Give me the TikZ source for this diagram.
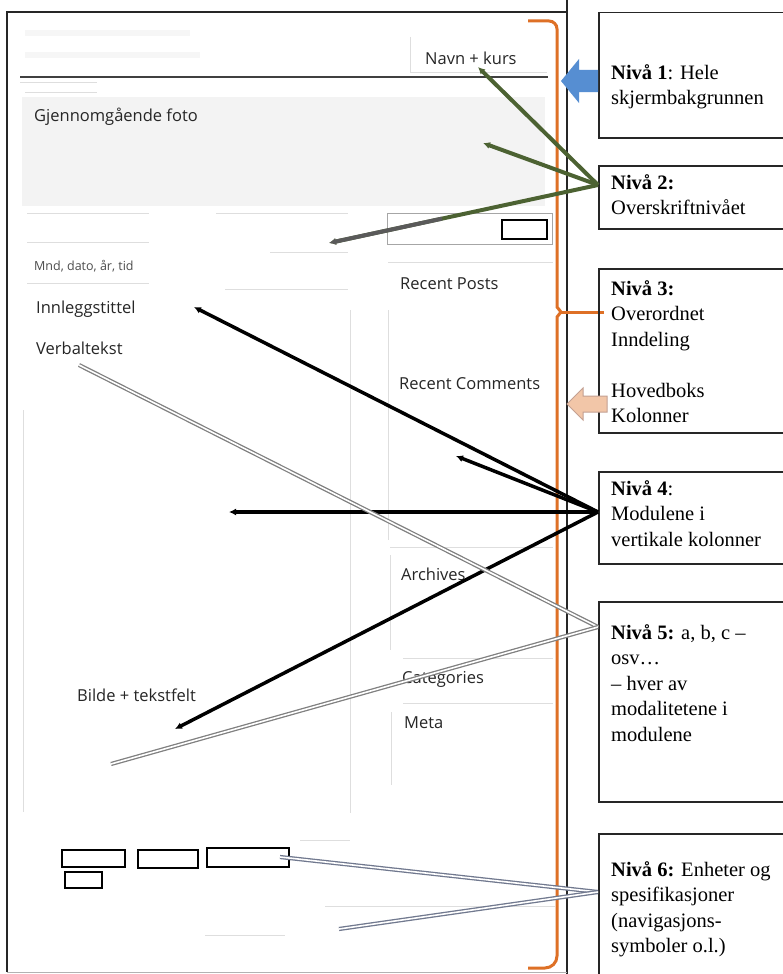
\documentclass[tikz,border=0pt]{standalone}
\usepackage{fontspec}
\setmainfont{Liberation Serif}
\newfontfamily\uifont{Open Sans}
\usetikzlibrary{arrows.meta,calc}

\definecolor{bracketorange}{RGB}{222,112,38}
\definecolor{levelblue}{RGB}{86,142,210}
\definecolor{peachfill}{RGB}{242,198,168}
\definecolor{peachedge}{RGB}{196,160,146}
\definecolor{olivelink}{RGB}{76,98,50}
\definecolor{greylink}{RGB}{90,90,90}
\definecolor{guide}{RGB}{222,222,222}
\definecolor{photo}{RGB}{243,243,243}
\definecolor{modalink}{RGB}{128,128,128}
\definecolor{unitlink}{RGB}{112,120,142}

\begin{document}
\begin{tikzpicture}[x=1pt,y=-1pt,
  frameline/.style={line width=1.3pt, black!85},
  guideline/.style={line width=0.9pt, guide},
  uitext/.style={anchor=base west, inner sep=0pt, font=\uifont\fontsize{16.5}{20}\selectfont, text=black!85},
  smalltext/.style={anchor=base west, inner sep=0pt, font=\uifont\fontsize{12.5}{15}\selectfont, text=black!70},
  navbox/.style={draw=black, line width=1.2pt},
  lvlbox/.style={draw=black!85, line width=1.5pt, anchor=north west, minimum width=200pt, inner sep=0pt},
  lvltext/.style={anchor=north west, inner sep=0pt, align=left, font=\fontsize{20.5}{25.5}\selectfont},
  bracket/.style={draw=bracketorange, line width=3pt},
  headlink/.style={line width=4pt, olivelink, -{Latex[length=7pt,width=7pt]}},
  modlink/.style={line width=3.5pt, black, -{Latex[length=7pt,width=7pt]}},
  partlink/.style={draw=modalink, double=white, double distance=1.6pt, line width=1.3pt},
  unitlinkstyle/.style={draw=unitlink, double=white, double distance=1.6pt, line width=1.3pt}]

\useasboundingbox (0,0) rectangle (782,974);
\fill[white] (0,0) rectangle (782,974);

% ---- faint layout guides of the page mock-up ----
\fill[photo] (22,97) rectangle (545,206);
\fill[gray!7] (25,30) rectangle (190,36);
\fill[gray!7] (25,52) rectangle (200,58);
\draw[guideline] (410,37) -- (410,72) -- (547,72);
\draw[guideline] (20,82) -- (97,82);
\draw[guideline] (25,92) -- (97,92);
\draw[guideline] (27,213) -- (149,213);
\draw[guideline] (216,213) -- (348,213);
\draw[guideline] (27,242) -- (149,242);
\draw[guideline] (270,252) -- (348,252);
\draw[guideline] (27,283) -- (149,283);
\draw[guideline] (225,289) -- (348,289);
\draw[guideline] (388,262) -- (553,262);
\draw[guideline] (350,310) -- (350,813);
\draw[guideline] (388,310) -- (388,540);
\draw[guideline] (23,410) -- (23,812);
\draw[guideline] (390,547) -- (553,547);
\draw[guideline] (390,555) -- (390,650);
\draw[guideline] (403,658) -- (553,658);
\draw[guideline] (403,703) -- (553,703);
\draw[guideline] (391,712) -- (391,785);
\draw[guideline] (300,840) -- (350,840);
\draw[guideline] (325,906) -- (555,906);
\draw[guideline] (205,935) -- (285,935);

% ---- page frame and header rule ----
\draw[frameline] (567,0) -- (567,974);
\draw[frameline] (567,12) -- (7,12) -- (7,972);
\draw[line width=1pt, gray!60] (7,972) -- (567,972);
\draw[line width=1.6pt, black!75] (20,77) -- (548,77);

% ---- search field ----
\draw[line width=1pt, gray!70] (387,213) rectangle (552,244);
\draw[navbox] (502,220) rectangle (547,239);

% ---- mock-up labels ----
\node[uitext] (navn) at (425,64) {Navn + kurs};
\node[uitext] (foto) at (34,121) {Gjennomgående foto};
\node[smalltext] (dato) at (34,270) {Mnd, dato, år, tid};
\node[uitext] (tittel) at (36,313) {Innleggstittel};
\node[uitext] (verbal) at (36,354) {Verbaltekst};
\node[uitext] (posts) at (400,289) {Recent Posts};
\node[uitext] (comments) at (399,389) {Recent Comments};
\node[uitext] (archives) at (401,580) {Archives};
\node[uitext] (categories) at (402,683) {Categories};
\node[uitext] (meta) at (404,728) {Meta};
\node[uitext] (bilde) at (77,701) {Bilde + tekstfelt};

% ---- navigation buttons ----
\draw[navbox] (62,850) rectangle (125,867);
\draw[navbox] (138,850) rectangle (198,868);
\draw[navbox] (207,848) rectangle (289,867);
\draw[navbox] (65,872) rectangle (102,888);

% ---- orange bracket spanning the main box ----
\draw[bracket] [rounded corners=8pt] (528,21) -- (557,21) -- (557,300)
  [sharp corners] -- (557,307) -- (561,312) -- (557,317) -- (557,330)
  [rounded corners=12pt] -- (557,968) -- (528,968);
\draw[bracket] (561,312) -- (604,312);

% ---- level boxes ----
\node[lvlbox, minimum height=125pt] (box1) at (598,12) {};
\node[lvlbox, minimum height=63pt] (box2) at (598,165) {};
\node[lvlbox, minimum height=164pt] (box3) at (598,268) {};
\node[lvlbox, minimum height=92pt] (box4) at (598,471) {};
\node[lvlbox, minimum height=200pt] (box5) at (598,601) {};
\node[lvlbox, minimum height=160pt] (box6) at (598,833) {};

\node[lvltext] (lvl1) at (611,64) {\textbf{Nivå 1}: Hele\\skjermbakgrunnen};
\node[lvltext] (lvl2) at (611,174) {\textbf{Nivå 2:}\\Overskriftnivået};
\node[lvltext] (lvl3) at (611,280) {\textbf{Nivå 3:}\\Overordnet\\Inndeling\\[25.5pt]Hovedboks\\Kolonner};
\node[lvltext] (lvl4) at (611,480) {\textbf{Nivå 4}:\\Modulene i\\vertikale kolonner};
\node[lvltext] (lvl5) at (611,624) {\textbf{Nivå 5:} a, b, c –\\osv…\\– hver av\\modalitetene i\\modulene};
\node[lvltext] (lvl6) at (611,861) {\textbf{Nivå 6:} Enheter og\\spesifikasjoner\\(navigasjons-\\symboler o.l.)};

% ---- link end points ----
\coordinate (hsrc) at (598,185);
\coordinate (msrc) at (598,512);
\coordinate (asrc) at (598,627);
\coordinate (usrc) at (598,892);
\coordinate (hNavn) at (478,67);
\coordinate (hPhoto) at (483,143);
\coordinate (hSearch) at (329,243);
\coordinate (mTitle) at (194,307);
\coordinate (mComments) at (456,456);
\coordinate (mMain) at (229,512);
\coordinate (mImage) at (175,729);
\coordinate (aText) at (79,365);
\coordinate (aImage) at (111,764);
\coordinate (uNav) at (280,857);
\coordinate (uFoot) at (339,929);

% ---- level 2: header elements (search link fades from green to grey) ----
\draw[headlink] (hsrc) -- (hNavn);
\draw[headlink] (hsrc) -- (hPhoto);
\draw[headlink] (hsrc) -- (hSearch);
\draw[headlink, greylink] ($(hSearch)!0.42!(hsrc)$) -- (hSearch);

% ---- level 4: modules ----
\draw[modlink] (msrc) -- (mTitle);
\draw[modlink] (msrc) -- (mComments);
\draw[modlink] (msrc) -- (mMain);
\draw[modlink] (msrc) -- (mImage);

% ---- level 5: modalities ----
\draw[partlink] (asrc) -- (aText);
\draw[partlink] (asrc) -- (aImage);

% ---- level 6: units ----
\draw[unitlinkstyle] (usrc) -- (uNav);
\draw[unitlinkstyle] (usrc) -- (uFoot);

% ---- block arrows ----
\fill[levelblue] (598,70) -- (579,70) -- (579,59) -- (561,81) -- (579,103) -- (579,92) -- (598,92) -- cycle;
\filldraw[fill=peachfill, draw=peachedge, line width=1pt]
  (607,396) -- (583,396) -- (583,388) -- (567,404) -- (583,420) -- (583,412) -- (607,412) -- cycle;

\end{tikzpicture}
\end{document}
